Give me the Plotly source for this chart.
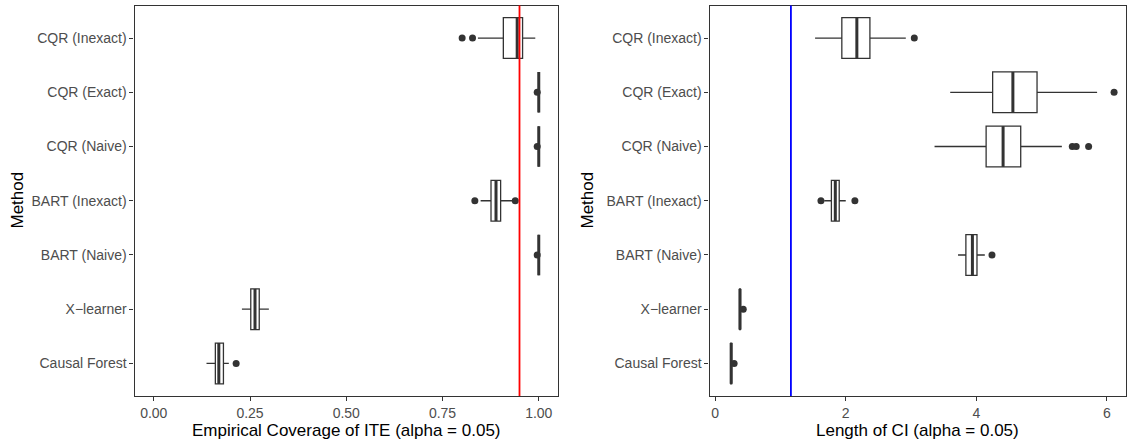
import plotly.graph_objects as go

methods = ["Causal Forest", "X\u2212learner", "BART (Naive)", "BART (Inexact)",
           "CQR (Naive)", "CQR (Exact)", "CQR (Inexact)"]

# Empirical coverage box statistics
cov_lo = [0.137, 0.229, 1.0, 0.849, 1.0, 1.0, 0.842]
cov_q1 = [0.160, 0.252, 1.0, 0.876, 1.0, 1.0, 0.908]
cov_med = [0.169, 0.263, 1.0, 0.889, 1.0, 1.0, 0.944]
cov_q3 = [0.181, 0.274, 1.0, 0.901, 1.0, 1.0, 0.958]
cov_hi = [0.195, 0.299, 1.0, 0.931, 1.0, 1.0, 0.991]
cov_out_method = ["Causal Forest", "BART (Naive)", "BART (Inexact)", "BART (Inexact)",
                  "CQR (Naive)", "CQR (Exact)", "CQR (Inexact)", "CQR (Inexact)"]
cov_out_value = [0.214, 0.996, 0.834, 0.939, 0.996, 0.996, 0.801, 0.828]

# CI length box statistics
len_lo = [0.228, 0.365, 3.72, 1.67, 3.36, 3.60, 1.53]
len_q1 = [0.238, 0.373, 3.84, 1.78, 4.15, 4.25, 1.94]
len_med = [0.245, 0.380, 3.94, 1.84, 4.41, 4.56, 2.17]
len_q3 = [0.252, 0.387, 4.01, 1.90, 4.68, 4.93, 2.37]
len_hi = [0.262, 0.395, 4.13, 2.00, 5.31, 5.85, 2.92]
len_out_method = ["Causal Forest", "X\u2212learner", "BART (Naive)", "BART (Inexact)",
                  "BART (Inexact)", "CQR (Naive)", "CQR (Naive)", "CQR (Naive)",
                  "CQR (Exact)", "CQR (Inexact)"]
len_out_value = [0.29, 0.43, 4.24, 1.62, 2.14, 5.47, 5.53, 5.72, 6.11, 3.05]

target_coverage = 0.95
reference_length = 1.16

DARK = "#333333"
BOX_W = 0.75
pos = {m: i for i, m in enumerate(methods)}

fig = go.Figure()


def add_panel(xa, ya, lo, q1, med, q3, hi, om, ov):
    ys = [pos[m] for m in methods]
    for i in range(len(methods)):
        fig.add_trace(go.Box(
            orientation="h", y=[ys[i]], q1=[q1[i]], median=[med[i]], q3=[q3[i]],
            lowerfence=[lo[i]], upperfence=[hi[i]], width=BOX_W,
            fillcolor="white", line=dict(color=DARK, width=1.3),
            whiskerwidth=0, boxpoints=False, showlegend=False,
            hoverinfo="skip", xaxis=xa, yaxis=ya))
    mx, my = [], []
    for i in range(len(methods)):
        mx += [med[i], med[i], None]
        my += [ys[i] - BOX_W / 2, ys[i] + BOX_W / 2, None]
    fig.add_trace(go.Scatter(x=mx, y=my, mode="lines",
                             line=dict(color=DARK, width=3), showlegend=False,
                             hoverinfo="skip", xaxis=xa, yaxis=ya))
    fig.add_trace(go.Scatter(x=ov, y=[pos[m] for m in om], mode="markers",
                             marker=dict(color=DARK, size=7), showlegend=False,
                             hoverinfo="skip", xaxis=xa, yaxis=ya))


add_panel("x", "y", cov_lo, cov_q1, cov_med, cov_q3, cov_hi, cov_out_method, cov_out_value)
add_panel("x2", "y2", len_lo, len_q1, len_med, len_q3, len_hi, len_out_method, len_out_value)

fig.add_shape(type="line", xref="x", yref="y domain", x0=target_coverage, x1=target_coverage,
              y0=0, y1=1, line=dict(color="#FF0000", width=1.8))
fig.add_shape(type="line", xref="x2", yref="y2 domain", x0=reference_length, x1=reference_length,
              y0=0, y1=1, line=dict(color="#0000FF", width=1.8))

W, H = 1130, 444
ydom = [1 - 396 / H, 1 - 5.5 / H]
tickfont = dict(family="Liberation Sans, Arial, sans-serif", size=14, color="#4D4D4D")
axis_common = dict(showgrid=False, zeroline=False, showline=True, mirror=True,
                   linecolor=DARK, linewidth=1.1, ticks="outside", ticklen=4,
                   tickcolor=DARK, tickwidth=1.1, tickfont=tickfont)

fig.update_layout(
    width=W, height=H, margin=dict(l=0, r=0, t=0, b=0),
    paper_bgcolor="white", plot_bgcolor="white",
    font=dict(family="Liberation Sans, Arial, sans-serif"),
    xaxis=dict(domain=[134.5 / W, 558 / W], range=[-0.05, 1.05], anchor="y",
               tickvals=[0, 0.25, 0.5, 0.75, 1.0],
               ticktext=["0.00", "0.25", "0.50", "0.75", "1.00"], **axis_common),
    yaxis=dict(domain=ydom, range=[-0.6, 6.6], anchor="x",
               tickvals=list(range(len(methods))), ticktext=methods, **axis_common),
    xaxis2=dict(domain=[709.5 / W, 1125.5 / W], range=[-0.087, 6.285], anchor="y2",
                tickvals=[0, 2, 4, 6], ticktext=["0", "2", "4", "6"], **axis_common),
    yaxis2=dict(domain=ydom, range=[-0.6, 6.6], anchor="x2",
                tickvals=list(range(len(methods))), ticktext=methods, **axis_common),
)

titlefont = dict(family="Liberation Sans, Arial, sans-serif", size=17, color="black")
ann = [
    dict(text="Empirical Coverage of ITE (alpha = 0.05)", x=346 / W, y=1 - 430 / H),
    dict(text="Length of CI (alpha = 0.05)", x=917.5 / W, y=1 - 430 / H),
    dict(text="Method", x=17 / W, y=1 - 200.5 / H, textangle=-90),
    dict(text="Method", x=587 / W, y=1 - 200.5 / H, textangle=-90),
]
for a in ann:
    fig.add_annotation(xref="paper", yref="paper", showarrow=False,
                       xanchor="center", yanchor="middle", font=titlefont, **a)

fig.write_html("out.html")
